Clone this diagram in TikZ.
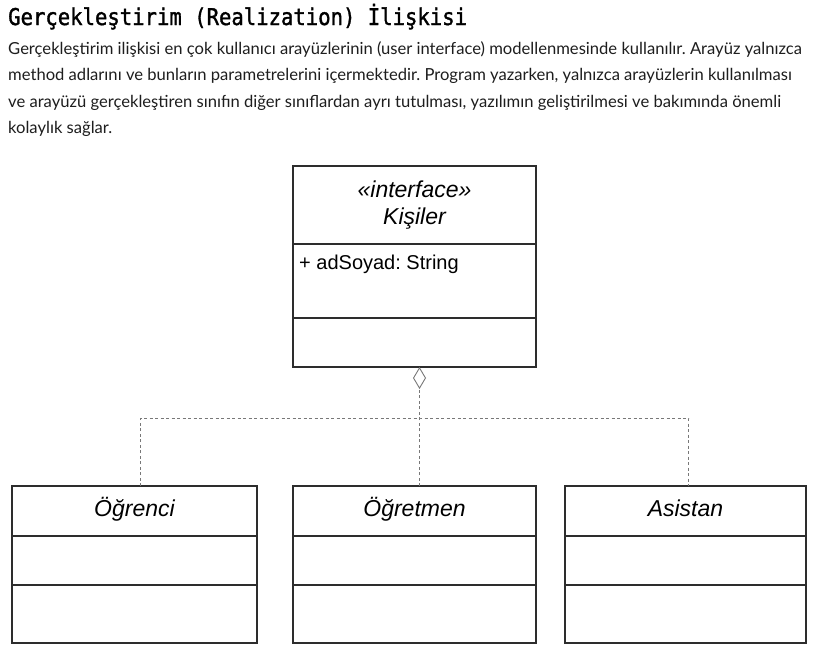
\documentclass[tikz,border=0pt]{standalone}
\usepackage{fontspec}
\usepackage{tikz}
\usetikzlibrary{positioning,arrows.meta,calc}
\setmainfont{Lato}
\newfontfamily\titlefont[FakeBold=1.5]{DejaVu Sans Mono}
\newfontfamily\umlfont{Liberation Sans}
\definecolor{boxline}{RGB}{45,45,45}
\definecolor{dashgray}{RGB}{120,120,120}
\definecolor{bodytext}{RGB}{30,30,30}
\frenchspacing

\begin{document}
\begin{tikzpicture}[x=1pt,y=-1pt,
                title/.style={anchor=base west, inner sep=0pt, font=\titlefont\fontsize{20.6}{24}\selectfont, text=black},
                body/.style={anchor=north west, inner sep=0pt, align=left, font=\fontsize{16.6}{26.5}\selectfont, text=bodytext},
                class/.style={rectangle, draw=boxline, line width=1.2pt, inner sep=0pt, outer sep=0pt, minimum width=243pt, align=center, font=\umlfont\itshape\fontsize{23}{27}\selectfont},
                classname/.style={text height=15pt, text depth=4pt},
                part/.style={rectangle, draw=boxline, line width=1.2pt, inner sep=0pt, outer sep=0pt, minimum width=243pt},
                attr/.style={anchor=north west, inner sep=0pt, font=\umlfont\fontsize{20}{24}\selectfont},
                realize/.style={draw=dashgray, line width=0.9pt, dash pattern=on 3pt off 2.5pt},
                hollow/.style={-{Diamond[open, width=13pt, length=22pt, line width=0.9pt]}}
            ]
                \useasboundingbox (0,0) rectangle (818,651);
                \fill[white] (0,0) rectangle (818,651);

                \node[title] (head) at (8,25) {\scalebox{1}[1.12]{Gerçekleştirim (Realization) İlişkisi}};
                \node[body] (text) at (8,41) {Gerçekleştirim ilişkisi en çok kullanıcı arayüzlerinin (user interface) modellenmesinde kullanılır. Arayüz yalnızca\\
                method adlarını ve bunların parametrelerini içermektedir. Program yazarken, yalnızca arayüzlerin kullanılması\\
                ve arayüzü gerçekleştiren sınıfın diğer sınıflardan ayrı tutulması, yazılımın geliştirilmesi ve bakımında önemli\\
                kolaylık sağlar.};

                % interface
                \node[class, minimum height=78pt, anchor=north west] (kisiler) at (293,166) {«interface»\\Kişiler};
                \node[part, minimum height=74pt, below=0pt of kisiler] (kisilerattr) {};
                \node[part, minimum height=49pt, below=0pt of kisilerattr] (kisilerops) {};
                \node[attr] (adsoyad) at ([xshift=6pt,yshift=-11pt]kisilerattr.north west) {+ adSoyad: String};

                % classes
                \node[class, classname, minimum height=50pt, minimum width=245pt, anchor=north west] (ogrenci) at (12,486) {Öğrenci};
                \node[part, minimum height=49pt, minimum width=245pt, below=0pt of ogrenci] (ogrenciattr) {};
                \node[part, minimum height=58pt, minimum width=245pt, below=0pt of ogrenciattr] (ogrenciops) {};

                \node[class, classname, minimum height=50pt, anchor=north west] (ogretmen) at (293,486) {Öğretmen};
                \node[part, minimum height=49pt, below=0pt of ogretmen] (ogretmenattr) {};
                \node[part, minimum height=58pt, below=0pt of ogretmenattr] (ogretmenops) {};

                \node[class, classname, minimum height=50pt, minimum width=241pt, anchor=north west] (asistan) at (565,486) {Asistan};
                \node[part, minimum height=49pt, minimum width=241pt, below=0pt of asistan] (asistanattr) {};
                \node[part, minimum height=58pt, minimum width=241pt, below=0pt of asistanattr] (asistanops) {};

                \coordinate (bar) at (419,418);

                \draw[realize, hollow] ([xshift=5pt]ogretmen.north) -- ([xshift=5pt]kisilerops.south);
                \draw[realize] ([xshift=6pt]ogrenci.north) |- (bar) -| ([xshift=3pt]asistan.north);
            \end{tikzpicture}
\end{document}
